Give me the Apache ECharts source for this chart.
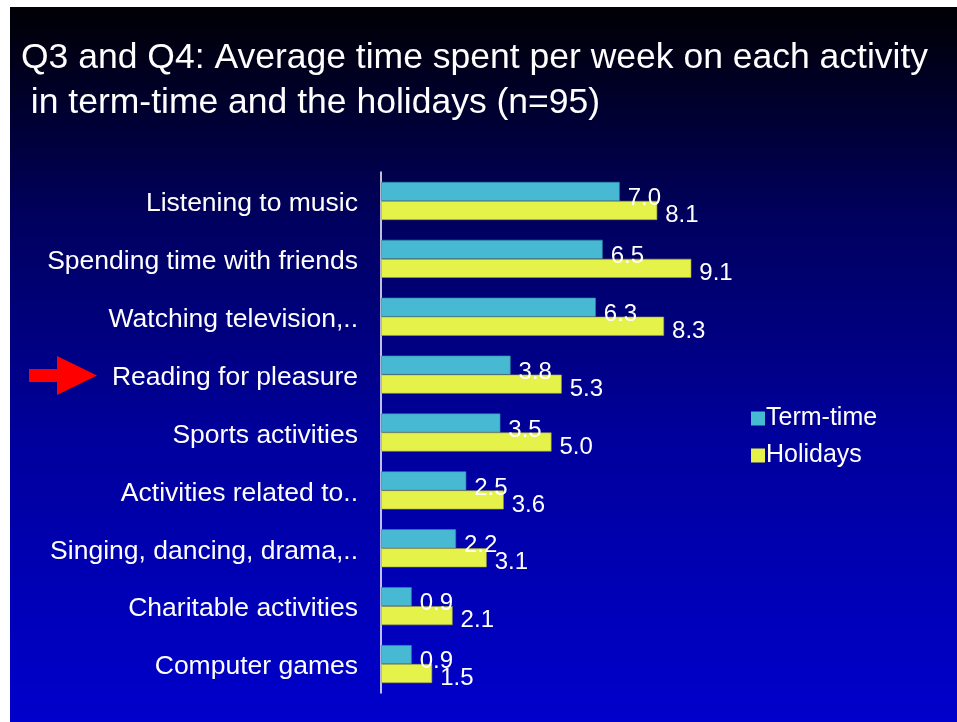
<!DOCTYPE html>
<html>
<head>
<meta charset="utf-8">
<script src="https://cdn.jsdelivr.net/npm/echarts@6/dist/echarts.min.js"></script>
<style>
html,body{margin:0;padding:0;background:#ffffff;}
#chart{width:957px;height:722px;}
</style>
</head>
<body>
<div id="chart"></div>
<script>
var titleText = 'Q3 and Q4: Average time spent per week on each activity\n in term-time and the holidays (n=95)';
var categories = ['Listening to music','Spending time with friends','Watching television,..','Reading for pleasure','Sports activities','Activities related to..','Singing, dancing, drama,..','Charitable activities','Computer games'];
var seriesNames = ['Term-time','Holidays'];
var termTime = [7.0, 6.5, 6.3, 3.8, 3.5, 2.5, 2.2, 0.9, 0.9];
var holidays = [8.1, 9.1, 8.3, 5.3, 5.0, 3.6, 3.1, 2.1, 1.5];

var FONT = '"Liberation Sans", Arial, sans-serif';
var chart = echarts.init(document.getElementById('chart'));
var fmt = function (p) { return p.value.toFixed(1); };

chart.setOption({
  backgroundColor: '#ffffff',
  animation: false,
  textStyle: { fontFamily: FONT },
  title: {
    text: titleText,
    left: 16,
    top: 31,
    textStyle: { color: '#ffffff', fontSize: 35.5, fontWeight: 'normal', lineHeight: 45, fontFamily: FONT }
  },
  graphic: [
    {
      type: 'rect', z: -10, silent: true,
      shape: { x: 10, y: 7, width: 947, height: 715 },
      style: {
        fill: new echarts.graphic.LinearGradient(0, 0, 0, 1, [
          { offset: 0, color: '#000004' },
          { offset: 0.3, color: '#000060' },
          { offset: 0.6, color: '#00009c' },
          { offset: 1, color: '#0000cc' }
        ])
      }
    },
    {
      type: 'polygon', z: 10, silent: true,
      shape: { points: [[29,369],[57,369],[57,356],[97,375.5],[57,395],[57,382],[29,382]] },
      style: { fill: '#ff0000' }
    }
  ],
  legend: {
    orient: 'vertical',
    left: 746,
    top: 401,
    itemWidth: 14,
    itemHeight: 14,
    itemGap: 12,
    icon: 'rect',
    itemStyle: { borderWidth: 0 },
    textStyle: { color: '#ffffff', fontSize: 25, lineHeight: 25, fontFamily: FONT, padding: [0, 0, 0, -4] },
    data: seriesNames
  },
  grid: { left: 381, right: 235, top: 172, bottom: 29 },
  xAxis: {
    type: 'value', min: 0, max: 10,
    show: false
  },
  yAxis: {
    type: 'category',
    inverse: true,
    data: categories,
    axisLine: { show: true, lineStyle: { color: '#ffffff', width: 1.5 } },
    axisTick: { show: false },
    axisLabel: {
      color: '#ffffff', fontSize: 26.5, margin: 23, fontFamily: FONT,
      formatter: function (v) { return '{c|' + v + '}'; },
      rich: { c: { color: '#ffffff', fontSize: 26.5, fontFamily: FONT, padding: [6, 0, 0, 0] } }
    }
  },
  series: [
    {
      name: seriesNames[0], type: 'bar', data: termTime,
      barWidth: 19, barGap: '0%',
      itemStyle: { color: '#48b9d3', borderColor: '#2f8aa5', borderWidth: 0.6 },
      label: { show: true, position: 'right', distance: 8, offset: [0, 7], color: '#ffffff', fontSize: 24, fontFamily: FONT, formatter: fmt }
    },
    {
      name: seriesNames[1], type: 'bar', data: holidays,
      barWidth: 19,
      itemStyle: { color: '#e5f24a', borderColor: '#9aa040', borderWidth: 0.6 },
      label: { show: true, position: 'right', distance: 8, offset: [0, 5], color: '#ffffff', fontSize: 24, fontFamily: FONT, formatter: fmt }
    }
  ]
});
</script>
</body>
</html>
